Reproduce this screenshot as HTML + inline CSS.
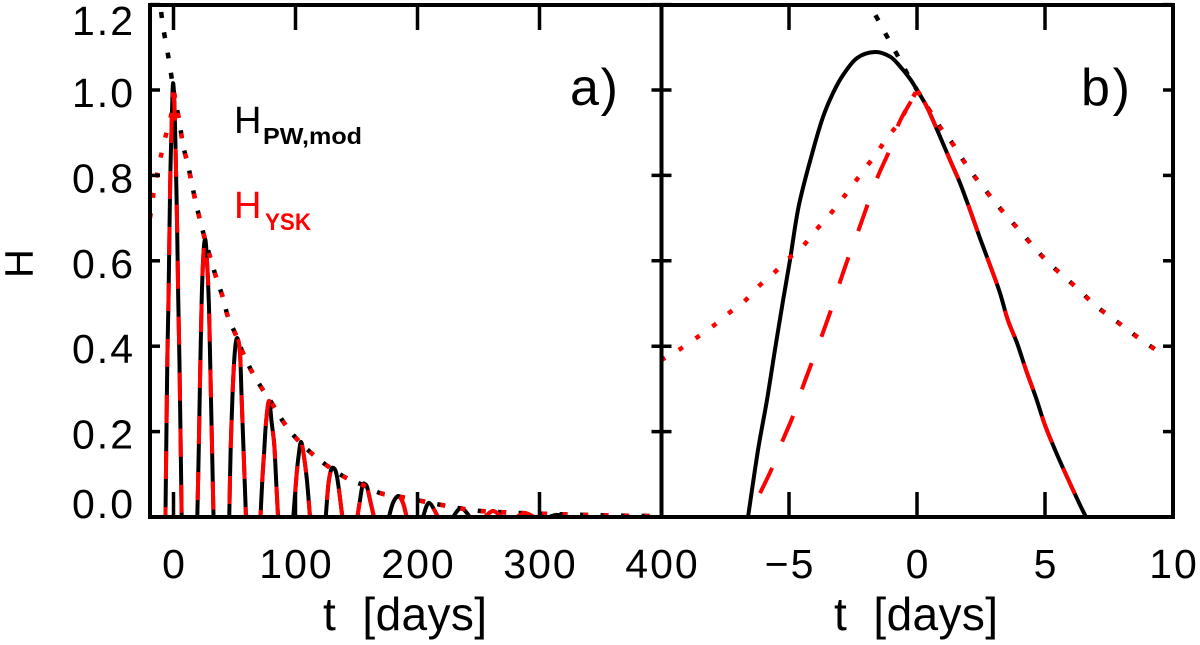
<!DOCTYPE html>
<html>
<head>
<meta charset="utf-8">
<title>H versus t</title>
<style>
html,body{margin:0;padding:0;background:#fff;}
svg{display:block;}
text{font-family:"Liberation Sans",sans-serif;}
</style>
</head>
<body>
<svg id="chart" xmlns="http://www.w3.org/2000/svg" width="1200" height="645" viewBox="0 0 1200 645">
  <defs>
    <clipPath id="clip-a"><rect x="150" y="5" width="511.5" height="512"/></clipPath>
    <clipPath id="clip-b"><rect x="661.5" y="5" width="511.5" height="512"/></clipPath>
  </defs>
  <g id="series-a" clip-path="url(#clip-a)"></g>
  <g id="series-b" clip-path="url(#clip-b)"></g>
  <g id="axes"></g>
  <g id="labels"></g>

  <text transform="translate(32.5,263.5) rotate(-90)" text-anchor="middle" font-size="40">H</text>
  <text x="323" y="630" font-size="46" textLength="164" lengthAdjust="spacing" style="white-space:pre">t  [days]</text>
  <text x="834" y="630" font-size="46" textLength="164" lengthAdjust="spacing" style="white-space:pre">t  [days]</text>

  <text x="570" y="105" font-size="52" textLength="48" lengthAdjust="spacing">a)</text>
  <text x="1081" y="105" font-size="52" textLength="49" lengthAdjust="spacing">b)</text>

  <g>
    <text x="234" y="133" font-size="38" fill="#000">H</text>
    <text x="263" y="144" font-size="23" font-weight="bold" fill="#000" textLength="99" lengthAdjust="spacingAndGlyphs">PW,mod</text>
  </g>
  <g>
    <text x="234" y="218" font-size="38" fill="#ff0000">H</text>
    <text x="265" y="230" font-size="24" font-weight="bold" fill="#ff0000" textLength="46" lengthAdjust="spacingAndGlyphs">YSK</text>
  </g>
</svg>

<script>
// Panel a: oscillating curves (days, H)
const aCurveT = [-6.6,-5.1,-4.1,-3.3,-2.5,-1.2,-0.4,0.8,2.05,3,3.9,4.9,6.7,19.5,20.7,21.7,23.1,24.4,25.8,27.2,29.1,30.7,32.8,45.7,46.9,48.5,50.4,52.3,54.5,55.9,57.8,59.4,71.3,72.8,74.4,75.8,78.3,80.5,82.6,84.1,85.7,98.2,101,102.9,104.5,106.4,109.2,111.9,124.8,126.9,129.1,131,133.2,135.1,138.4,150.7,152.9,155,157,158.7,161.1,164.3,176.6,179.9,184.2,188.1,191.1,204.5,209.4,216.8,229.1,235.7,243,255.3,261.9,269.3,281.6,288.1,295.5,307.8,314.3,321.7,400];
const aCurveH = [0,0.361,0.508,0.672,0.813,0.953,1.016,0.965,0.813,0.672,0.508,0.361,0,0,0.157,0.314,0.508,0.609,0.651,0.614,0.492,0.281,0,0,0.164,0.297,0.391,0.419,0.384,0.274,0.126,0,0,0.087,0.157,0.22,0.272,0.22,0.169,0.087,0,0,0.103,0.152,0.176,0.152,0.091,0,0,0.075,0.11,0.115,0.105,0.075,0,0,0.04,0.075,0.077,0.07,0.04,0,0,0.033,0.049,0.033,0,0,0.033,0,0,0.021,0,0,0.014,0,0,0.009,0,0,0.005,0,0];
const aYskT = [-6.6,-5.1,-4.1,-3.3,-2.5,-1.2,-0.4,0.8,2.05,3,3.9,4.9,6.7,19.5,20.7,21.7,23.1,24.4,25.8,27.2,29.1,30.7,32.8,45.7,46.9,48.5,50.4,52.3,54.5,55.9,57.8,59.4,71.3,72.8,74.4,75.8,78.3,80.5,82.6,84.1,85.7,98.2,101,102.9,104.5,106.4,109.2,111.9,124.8,126.9,129.1,131,133.2,135.1,138.4,150.7,152.9,155,157,158.7,161.1,164.3,176.6,179.9,184.2,188.1,191.1,204.5,209.4,216.8,229.1,235.7,243,255.3,261.9,269.3,281.6,288.1,295.5,307.8,314.3,321.7,400];
const aYskH = [0,0.361,0.508,0.672,0.813,0.945,1.0,0.955,0.813,0.672,0.508,0.361,0,0,0.157,0.314,0.508,0.609,0.651,0.614,0.492,0.281,0,0,0.164,0.297,0.391,0.419,0.384,0.274,0.126,0,0,0.087,0.157,0.22,0.272,0.22,0.169,0.087,0,0,0.103,0.152,0.176,0.152,0.091,0,0,0.075,0.11,0.115,0.105,0.075,0,0,0.04,0.075,0.077,0.07,0.04,0,0,0.033,0.049,0.033,0,0,0.033,0,0,0.021,0,0,0.014,0,0,0.009,0,0,0.005,0,0];

// Panel a: envelopes
const aEnvLeftPwT = [-12.5,-10.5,-8.6,-5.6,-2.9,0];
const aEnvLeftPwH = [1.23,1.192,1.148,1.101,1.054,1];
const aEnvLeftYskT = [-19.3,-17.9,-16,-12.7,-9.4,-5.6,-1.5,0];
const aEnvLeftYskH = [0.7,0.724,0.766,0.813,0.857,0.902,0.948,1];
const aEnvRightT = [0,2.6,5.3,7.8,11.9,14.9,18.4,22.3,26.4,30.5,35.4,40.6,44.7,50.4,57,64.3,72.3,80.5,89.5,98.8,110.2,121.7,134.8,144.7,155.3,169.3,183,220,245,270,300,350,400];
const aEnvRightPwH = [1,0.96,0.918,0.871,0.824,0.782,0.735,0.689,0.644,0.604,0.557,0.513,0.468,0.431,0.384,0.34,0.302,0.267,0.225,0.19,0.157,0.129,0.103,0.087,0.075,0.056,0.049,0.028,0.016,0.011,0.008,0.004,0.002];
const aEnvRightYskH = [1,0.96,0.918,0.871,0.824,0.782,0.735,0.689,0.644,0.604,0.557,0.513,0.468,0.431,0.384,0.34,0.302,0.267,0.225,0.19,0.157,0.129,0.103,0.087,0.075,0.056,0.049,0.028,0.016,0.011,0.008,0.004,0.002];

// Panel b: solid curve
const bPwT = [-6.6,-6.21,-5.86,-5.55,-5.23,-4.96,-4.61,-4.06,-3.67,-3.28,-2.89,-2.34,-1.64,-1.05,-0.66,-0.27,0,0.39,0.82,1.29,1.68,2.07,2.46,2.85,3.24,3.55,3.91,4.26,4.65,5,5.43,5.86,6.33,6.6];
const bPwH = [0,0.157,0.274,0.391,0.508,0.602,0.731,0.859,0.937,0.993,1.035,1.075,1.089,1.078,1.055,1.026,1,0.96,0.902,0.836,0.782,0.719,0.653,0.59,0.525,0.461,0.407,0.344,0.279,0.215,0.152,0.094,0.033,0];

// Panel b: dashed curve
const bYskT = [-6.13,-5.66,-5.27,-4.84,-4.49,-4.1,-3.71,-3.36,-3.01,-2.66,-2.27,-1.91,-1.52,-1.09,-0.7,-0.2,0,0.39,0.82,1.29,1.68,2.07,2.46,2.85,3.24,3.55,3.91,4.26,4.65,5,5.43,5.86,6.33,6.6];
const bYskH = [0.056,0.115,0.176,0.237,0.3,0.363,0.426,0.485,0.55,0.611,0.674,0.735,0.799,0.857,0.923,0.977,1,0.96,0.902,0.836,0.782,0.719,0.653,0.59,0.525,0.461,0.407,0.344,0.279,0.215,0.152,0.094,0.033,0];

// Panel b: envelopes
const bEnvLeftPwT = [-1.9,-1.76,-1.41,-1.05,-0.66,-0.35,0];
const bEnvLeftPwH = [1.22,1.192,1.152,1.112,1.07,1.035,1];
const bEnvLeftYskT = [-10,-9.92,-9.26,-8.63,-7.97,-7.34,-6.76,-6.21,-5.63,-5.08,-4.49,-4.02,-3.48,-3.01,-2.54,-2.07,-1.6,-1.17,-0.7,0];
const bEnvLeftYskH = [0.367,0.37,0.393,0.419,0.447,0.478,0.504,0.539,0.569,0.602,0.632,0.667,0.703,0.738,0.775,0.813,0.85,0.888,0.925,1];
const bEnvRightT = [0,0.9,1.37,1.8,2.23,2.73,3.2,3.71,4.22,4.73,5.27,5.86,6.45,6.95,7.62,8.24,8.87,9.53];
const bEnvRightPwH = [1,0.913,0.876,0.836,0.799,0.761,0.726,0.691,0.656,0.621,0.588,0.557,0.525,0.496,0.466,0.438,0.41,0.384];
const bEnvRightYskH = [1,0.913,0.876,0.836,0.799,0.761,0.726,0.691,0.656,0.621,0.588,0.557,0.525,0.496,0.466,0.438,0.41,0.384];

// Tick values and labels
const yTicks = [0,0.2,0.4,0.6,0.8,1.0,1.2];
const yTickLabels = ['0.0','0.2','0.4','0.6','0.8','1.0','1.2'];
const aXTicks = [0,100,200,300,400];
const aXTickLabels = ['0','100','200','300','400'];
const bXTicks = [-5,0,5,10];
const bXTickLabels = ['\u22125','0','5','10'];

const NS = 'http://www.w3.org/2000/svg';
const xA = t => 173.5 + t * 1.22;
const xB = t => 917 + t * 25.6;
const yH = h => 517 - h * 427;

// Smooth curve through the data points
function pathFrom(ts, hs, xFn) {
  const pts = ts.map((t, i) => [xFn(t), yH(hs[i])]);
  let d = 'M' + pts[0][0].toFixed(2) + ' ' + pts[0][1].toFixed(2);
  for (let i = 0; i < pts.length - 1; i++) {
    const p0 = pts[Math.max(0, i - 1)];
    const p1 = pts[i];
    const p2 = pts[i + 1];
    const p3 = pts[Math.min(pts.length - 1, i + 2)];
    const c1x = p1[0] + (p2[0] - p0[0]) / 6;
    const c1y = p1[1] + (p2[1] - p0[1]) / 6;
    const c2x = p2[0] - (p3[0] - p1[0]) / 6;
    const c2y = p2[1] - (p3[1] - p1[1]) / 6;
    d += ' C' + c1x.toFixed(2) + ' ' + c1y.toFixed(2) + ' ' + c2x.toFixed(2) + ' ' + c2y.toFixed(2) + ' ' + p2[0].toFixed(2) + ' ' + p2[1].toFixed(2);
  }
  return d;
}

function addPath(parent, name, ts, hs, xFn, color, width, dash, offset) {
  const p = document.createElementNS(NS, 'path');
  
  
  p.setAttribute('d', pathFrom(ts, hs, xFn));
  p.setAttribute('fill', 'none');
  p.setAttribute('stroke', color);
  p.setAttribute('stroke-width', width);
  p.setAttribute('stroke-linejoin', 'round');
  if (dash) p.setAttribute('stroke-dasharray', dash);
  if (offset) p.setAttribute('stroke-dashoffset', offset);
  parent.appendChild(p);
}

// Draws every lobe (run of points between baseline stretches) as its own path
function addLobes(parent, name, ts, hs, xFn, color, width, dash, phases) {
  let start = 0;
  let lobe = 0;
  for (let i = 1; i < ts.length; i++) {
    const endOfRun = i === ts.length - 1 || (hs[i] === 0 && hs[i - 1] !== 0);
    if (endOfRun) {
      const phase = lobe < phases.length ? phases[lobe] : 30;
      addPath(parent, name + '-' + lobe, ts.slice(start, i + 1), hs.slice(start, i + 1), xFn, color, width, dash, phase);
      start = i + 1;
      lobe++;
      if (start >= ts.length - 1) break;
    }
  }
}

function addLine(parent, name, x1, y1, x2, y2, width) {
  const l = document.createElementNS(NS, 'line');
  
  
  l.setAttribute('x1', x1);
  l.setAttribute('y1', y1);
  l.setAttribute('x2', x2);
  l.setAttribute('y2', y2);
  l.setAttribute('stroke', '#000');
  l.setAttribute('stroke-width', width);
  parent.appendChild(l);
}

function addLabel(parent, name, x, y, anchor, str) {
  const t = document.createElementNS(NS, 'text');
  
  
  t.setAttribute('x', x);
  t.setAttribute('y', y);
  t.setAttribute('text-anchor', anchor);
  t.setAttribute('font-size', '41');
  t.setAttribute('letter-spacing', '2');
  t.textContent = str;
  parent.appendChild(t);
}

const DOT_RED = '5 15.5';
const DOT_BLACK = '6 14.5';
const DOT_UNDER = '8 12.5';
const DASH = '28 28';
const LOBE_DASH_PHASES = [18,39,43,21,33,39,13,31,33,33,0,55,30];
const gA = document.getElementById('series-a');
const gB = document.getElementById('series-b');
const axes = document.getElementById('axes');
const labels = document.getElementById('labels');

addPath(gA, 'pw-envelope-left-a', aEnvLeftPwT, aEnvLeftPwH, xA, '#000', 4.5, DOT_BLACK, 0);
addPath(gA, 'pw-envelope-right-a', aEnvRightT, aEnvRightPwH, xA, '#000', 4.5, DOT_UNDER, 0);
addLobes(gA, 'pw-curve-a-lobe', aCurveT, aCurveH, xA, '#000', 4, null, []);
addPath(gA, 'ysk-envelope-left-a', aEnvLeftYskT, aEnvLeftYskH, xA, '#ff0000', 4.5, DOT_RED, 0);
addPath(gA, 'ysk-envelope-right-a', aEnvRightT, aEnvRightYskH, xA, '#ff0000', 4.5, DOT_RED, -3);
addLobes(gA, 'ysk-curve-a-lobe', aYskT, aYskH, xA, '#ff0000', 4, DASH, LOBE_DASH_PHASES);

addPath(gB, 'pw-envelope-left-b', bEnvLeftPwT, bEnvLeftPwH, xB, '#000', 4.5, DOT_BLACK, 0);
addPath(gB, 'pw-envelope-right-b', bEnvRightT, bEnvRightPwH, xB, '#000', 4.5, DOT_BLACK, 0);
addPath(gB, 'pw-curve-b', bPwT, bPwH, xB, '#000', 4);
addPath(gB, 'ysk-envelope-left-b', bEnvLeftYskT, bEnvLeftYskH, xB, '#ff0000', 4.5, DOT_RED, 0);
addPath(gB, 'ysk-envelope-right-b', bEnvRightT, bEnvRightYskH, xB, '#ff0000', 4.5, DOT_RED, -1);
addPath(gB, 'ysk-curve-b', bYskT, bYskH, xB, '#ff0000', 4, DASH, 0);

// Frame
addLine(axes, 'panel-a-left-axis', 150, 3, 150, 519, 4);
addLine(axes, 'middle-axis', 661.5, 4, 661.5, 519, 4);
addLine(axes, 'panel-b-right-axis', 1173, 3, 1173, 519, 4);
addLine(axes, 'top-axis', 148, 5, 1175, 5, 4);
addLine(axes, 'bottom-axis', 148, 517, 1175, 517, 4);

// Ticks
yTicks.forEach(v => {
  const y = yH(v);
  addLine(axes, 'y-tick-left', 150, y, 160, y, 3.5);
  addLine(axes, 'y-tick-middle', 651.5, y, 671.5, y, 3.5);
  addLine(axes, 'y-tick-right', 1163, y, 1173, y, 3.5);
});
aXTicks.forEach(v => {
  addLine(axes, 'x-tick-bottom-a', xA(v), 492, xA(v), 517, 3.5);
  addLine(axes, 'x-tick-top-a', xA(v), 5, xA(v), 30, 3.5);
});
bXTicks.forEach(v => {
  addLine(axes, 'x-tick-bottom-b', xB(v), 492, xB(v), 517, 3.5);
  addLine(axes, 'x-tick-top-b', xB(v), 5, xB(v), 30, 3.5);
});

// Tick labels
yTicks.forEach((v, i) => {
  const base = Math.max(35, Math.min(518, yH(v) + 17));
  addLabel(labels, 'y-tick-label', 135, base, 'end', yTickLabels[i]);
});
aXTicks.forEach((v, i) => {
  addLabel(labels, 'x-tick-label-a', xA(v) + 1, 578, 'middle', aXTickLabels[i]);
});
bXTicks.forEach((v, i) => {
  addLabel(labels, 'x-tick-label-b', xB(v) + 1, 578, 'middle', bXTickLabels[i]);
});
</script>
</body>
</html>
